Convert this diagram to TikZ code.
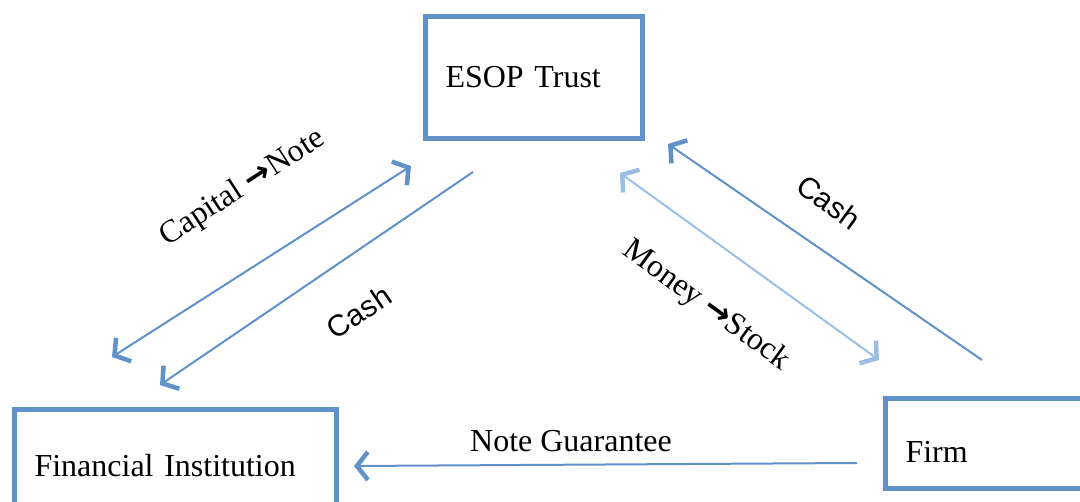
\documentclass[tikz,border=0pt]{standalone}
\usepackage{fontspec}
\setmainfont{Liberation Serif}
\newfontfamily\cashfont{Liberation Sans}
\newfontfamily\arrowfont{DejaVu Sans}
\usetikzlibrary{arrows.meta}
\definecolor{boxblue}{RGB}{96,146,201}
\definecolor{paleblue}{RGB}{155,190,228}
\newcommand{\flowarrow}{{\arrowfont\bfseries →}}

\begin{document}
\begin{tikzpicture}[
  x=1pt, y=-1pt,
  barb/.tip={Straight Barb[length=11pt,width=28pt,line width=4.5pt]},
  box/.style={draw=boxblue, line width=5pt, align=left, inner ysep=0pt, inner xsep=20pt, font=\fontsize{32}{38}\selectfont},
  flow/.style={draw=boxblue, line width=2pt, -barb},
  lbl/.style={font=\fontsize{32}{38}\selectfont, inner sep=0pt},
  cash/.style={font=\cashfont\fontsize{30}{36}\selectfont, inner sep=0pt}
]
\useasboundingbox (0,0) rectangle (1080,502);
\clip (0,0) rectangle (1080,502);

% the three parties
\node[box, text width=177pt, text height=71.5pt, text depth=50.5pt] (esop) at (534,77.5) {ESOP Trust};
\node[box, text width=282pt, text height=67.5pt, text depth=62.5pt] (bank) at (175.5,474.5) {Financial Institution};
\node[box, text width=174.5pt, text height=64.5pt, text depth=25.5pt] (firm) at (992.75,443.5) {Firm};

% arrow ends
\coordinate (capA) at (112,357);
\coordinate (capB) at (411,166);
\coordinate (cashA) at (473,172);
\coordinate (cashB) at (160,385);
\coordinate (monA) at (620,173);
\coordinate (monB) at (879,360);
\coordinate (cashC) at (982,360);
\coordinate (cashD) at (668,144);
\coordinate (noteA) at (857,463);
\coordinate (noteB) at (354,466);

\draw[flow, barb-barb] (capA) -- (capB);
\draw[flow] (cashA) -- (cashB);
\draw[flow, draw=paleblue, barb-barb] (monA) -- (monB);
\draw[flow] (cashC) -- (cashD);
\draw[flow] (noteA) -- (noteB);

% labels
\node[lbl, rotate=33] (capital) at (243,188) {Capital \flowarrow Note};
\node[cash, rotate=34] (cashleft) at (359,312) {Cash};
\node[lbl, rotate=-36] (money) at (706,306) {Money \flowarrow Stock};
\node[cash, rotate=-36] (cashright) at (829,202) {Cash};
\node[lbl] (guarantee) at (571,441) {Note Guarantee};

\end{tikzpicture}
\end{document}
